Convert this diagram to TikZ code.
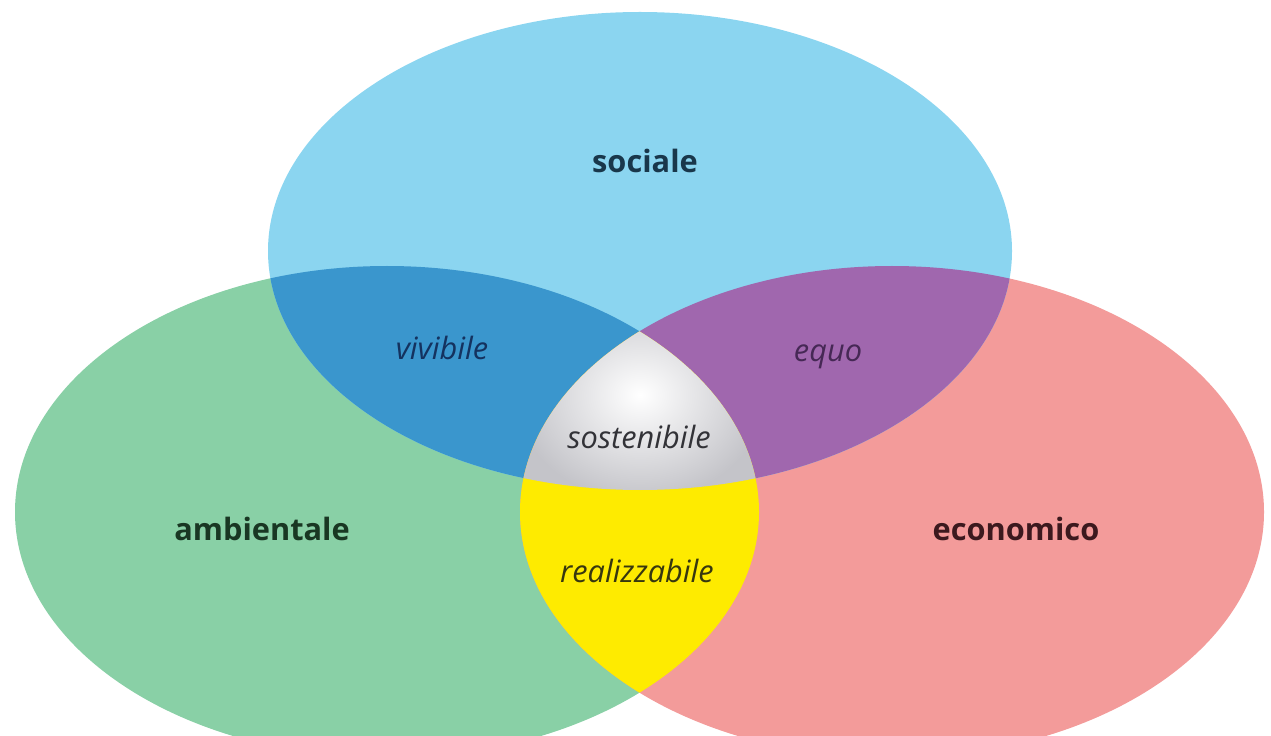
\documentclass[tikz,border=0pt]{standalone}
\usepackage{fontspec}
\setmainfont{Open Sans}

\definecolor{socfill}{RGB}{139,213,240}
\definecolor{ambfill}{RGB}{137,208,166}
\definecolor{ecofill}{RGB}{243,155,154}
\definecolor{vivfill}{RGB}{58,150,205}
\definecolor{equofill}{RGB}{160,103,174}
\definecolor{realfill}{RGB}{254,235,0}
\definecolor{sostgray}{RGB}{196,196,201}
\definecolor{soctext}{RGB}{25,55,75}
\definecolor{ambtext}{RGB}{25,55,35}
\definecolor{ecotext}{RGB}{60,25,30}
\definecolor{vivtext}{RGB}{20,50,95}
\definecolor{equotext}{RGB}{70,40,85}
\definecolor{sosttext}{RGB}{50,50,55}
\definecolor{realtext}{RGB}{55,55,15}

\begin{document}
\begin{tikzpicture}[x=0.02cm,y=-0.02cm,
   set/.style={anchor=base,font=\fontsize{17.5}{20}\selectfont\bfseries},
   meet/.style={anchor=base,font=\fontsize{17.5}{20}\selectfont\itshape}]
\useasboundingbox (0,0) rectangle (1271,736);
\clip (0,0) rectangle (1271,736);
\def\sociale{(640,251) ellipse [x radius=372, y radius=239]}
\def\ambientale{(387,512) ellipse [x radius=372, y radius=246]}
\def\economico{(892,512) ellipse [x radius=372, y radius=246]}
% the three sets
\fill[ambfill] \ambientale;
\fill[ecofill] \economico;
\fill[socfill] \sociale;
% the overlaps
\begin{scope}
  \clip \sociale;
  \fill[vivfill] \ambientale;
  \fill[equofill] \economico;
\end{scope}
\begin{scope}
  \clip \ambientale;
  \fill[realfill] \economico;
  \clip \sociale;
  \clip \economico;
  \shade[inner color=white,outer color=sostgray] (515,290) rectangle (765,500);
\end{scope}
% labels
\node[set,text=soctext] (sociale) at (645,173) {sociale};
\node[set,text=ambtext] (ambientale) at (262,540) {ambientale};
\node[set,text=ecotext] (economico) at (1016,540) {economico};
\node[meet,text=vivtext] (vivibile) at (442,360) {vivibile};
\node[meet,text=equotext] (equo) at (828,362) {equo};
\node[meet,text=sosttext] (sostenibile) at (639,448) {sostenibile};
\node[meet,text=realtext] (realizzabile) at (637,582) {realizzabile};
\end{tikzpicture}
\end{document}
